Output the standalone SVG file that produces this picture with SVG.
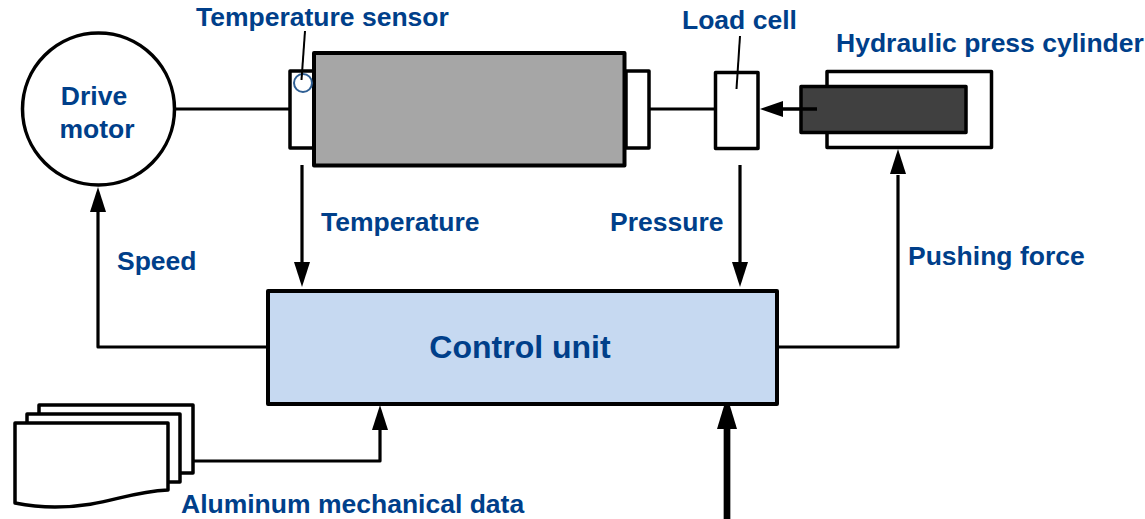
<svg xmlns="http://www.w3.org/2000/svg" width="1145" height="519" viewBox="0 0 1145 519">
<style>
.w{fill:#fff;stroke:#000;stroke-width:3.500;stroke-linejoin:round}
.t{font-family:"Liberation Sans",Arial,sans-serif;font-weight:bold;font-size:26.500px;fill:#003f8a}
.c{stroke:#000;stroke-width:3.200;fill:none;stroke-linejoin:round}
.h{fill:#000;stroke:none}
</style>
<rect width="1145" height="519" fill="#fff"/>
<g id="connectors">
<path class="c" d="M175 109H290"/>
<path class="c" d="M649 109H715"/>
<path class="c" d="M302 165V264"/>
<path class="h" d="M302 287L294 262H310Z"/>
<path class="c" d="M740 165V264"/>
<path class="h" d="M740 287L732 262H748Z"/>
<path class="c" d="M267 347H98V212"/>
<path class="h" d="M98 187L90 212H106Z"/>
<path class="c" d="M778 347H898V175"/>
<path class="h" d="M898 149L890 174H906Z"/>
<path class="c" d="M194 461H380V428"/>
<path class="h" d="M380 405L372 430H388Z"/>
<path fill="none" stroke="#000" stroke-width="6.700" d="M727 519V426"/>
<path class="h" d="M727 396L717 429H737Z"/>
<path class="h" d="M760 109L783 101V117Z"/>
</g>
<g id="drive-motor">
<circle class="w" cx="98.500" cy="109" r="76" stroke-width="4"/>
<text class="t" x="94" y="105" text-anchor="middle">Drive</text>
<text class="t" x="97" y="138" text-anchor="middle">motor</text>
</g>
<g id="roller">
<rect class="w" x="290" y="71" width="24" height="77"/>
<rect class="w" x="626" y="71" width="23" height="77"/>
<rect x="314" y="53" width="310.500" height="112.500" fill="#a6a6a6" stroke="#000" stroke-width="4" stroke-linejoin="round"/>
</g>
<g id="temperature-sensor">
<circle cx="303" cy="83" r="9" fill="none" stroke="#2f5f94" stroke-width="2"/>
<path d="M305 31L301.500 80" stroke="#000" stroke-width="2" fill="none"/>
<text class="t" x="196" y="26">Temperature sensor</text>
</g>
<g id="load-cell">
<rect class="w" x="715.500" y="72.500" width="42.500" height="76"/>
<path d="M740 36L736.500 89" stroke="#000" stroke-width="2" fill="none"/>
<text class="t" x="682" y="29">Load cell</text>
</g>
<g id="hydraulic-press-cylinder">
<rect class="w" x="827" y="71.500" width="164.500" height="76"/>
<rect x="801" y="86.500" width="165" height="46" fill="#404040" stroke="#000" stroke-width="3.500" stroke-linejoin="round"/>
<path d="M817 109H780" stroke="#000" stroke-width="3.500"/>
<text class="t" x="836" y="52">Hydraulic press cylinder</text>
</g>
<g id="control-unit">
<rect x="268" y="291" width="509" height="113" fill="#c6d9f1" stroke="#000" stroke-width="4" stroke-linejoin="round"/>
<text x="520" y="358" text-anchor="middle" font-family="'Liberation Sans',Arial,sans-serif" font-weight="bold" font-size="32" fill="#003f8a">Control unit</text>
</g>
<g id="aluminum-mechanical-data">
<rect class="w" x="39" y="405" width="154" height="68"/>
<rect class="w" x="27" y="414" width="153" height="68"/>
<path class="w" d="M15 423H168V490C125 492 105 507 55 507C35 507 25 505 15 503Z"/>
<text class="t" x="181" y="513">Aluminum mechanical data</text>
</g>
<g id="labels">
<text class="t" x="321" y="231">Temperature</text>
<text class="t" x="610" y="231">Pressure</text>
<text class="t" x="117" y="270">Speed</text>
<text class="t" x="908" y="265">Pushing force</text>
</g>
</svg>
